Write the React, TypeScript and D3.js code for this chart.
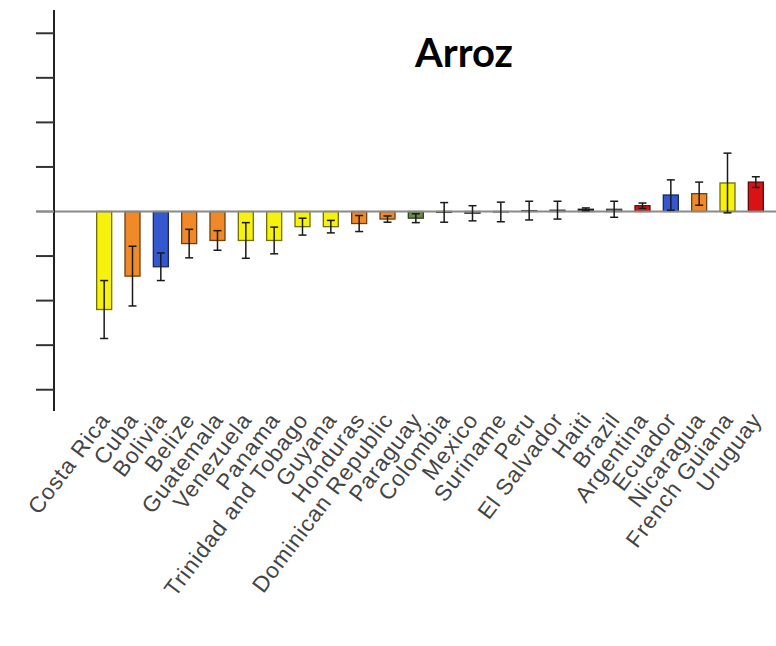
import { useEffect, useRef } from "react";
import * as d3 from "d3";

const countries = [
  "Costa Rica", "Cuba", "Bolivia", "Belize", "Guatemala", "Venezuela",
  "Panama", "Trinidad and Tobago", "Guyana", "Honduras", "Dominican Republic",
  "Paraguay", "Colombia", "Mexico", "Suriname", "Peru", "El Salvador", "Haiti",
  "Brazil", "Argentina", "Ecuador", "Nicaragua", "French Guiana", "Uruguay",
];
const means = [
  -2.2, -1.45, -1.24, -0.72, -0.65, -0.65, -0.65, -0.34, -0.34, -0.27, -0.17,
  -0.15, -0.02, -0.04, -0.01, 0.02, 0.03, 0.05, 0.05, 0.13, 0.37, 0.4, 0.64, 0.66,
];
const errors = [
  0.65, 0.67, 0.31, 0.32, 0.22, 0.4, 0.3, 0.19, 0.14, 0.18, 0.07, 0.1, 0.22,
  0.17, 0.22, 0.21, 0.2, 0.03, 0.18, 0.06, 0.34, 0.26, 0.67, 0.12,
];
const groups = [
  "yellow", "orange", "blue", "orange", "orange", "yellow", "yellow", "yellow",
  "yellow", "orange", "orange", "green", "green", "gray", "gray", "gray", "gray",
  "dark", "gray", "red", "blue", "orange", "yellow", "red",
];
const yTicks = [-4, -3, -2, -1, 0, 1, 2, 3, 4];

const palette: Record<string, string> = {
  yellow: "#f7f20c",
  orange: "#f08a28",
  blue: "#3558cf",
  red: "#d91313",
  green: "#6b8a4c",
  gray: "#8a8a8a",
  dark: "#333333",
};

export default function App() {
  const ref = useRef<SVGSVGElement>(null);

  useEffect(() => {
    const svg = d3.select(ref.current);
    svg.selectAll("*").remove();

    const x = d3.scalePoint<string>().domain(countries).range([90, 770]).padding(0.5);
    const y = d3.scaleLinear().domain([-4.5, 4.5]).range([412, 11]);
    const barW = 15;
    const axisX = 54;

    const data = countries.map((c, i) => ({
      name: c,
      v: means[i],
      e: errors[i],
      fill: palette[groups[i]],
    }));

    // title
    svg
      .append("text")
      .attr("x", 415)
      .attr("y", 67)
      .attr("font-family", "Lato, sans-serif")
      .attr("font-weight", 700)
      .attr("font-size", 40)
      .attr("fill", "#000")
      .text("Arroz");

    // bars
    svg
      .append("g")
      .selectAll("rect")
      .data(data)
      .enter()
      .append("rect")
      .attr("x", (d) => (x(d.name) as number) - barW / 2)
      .attr("y", (d) => y(Math.max(0, d.v)))
      .attr("width", barW)
      .attr("height", (d) => Math.abs(y(d.v) - y(0)))
      .attr("fill", (d) => d.fill)
      .attr("stroke", (d) => d3.color(d.fill)!.darker(2.2).formatHex())
      .attr("stroke-width", 1.3);

    // zero line
    svg
      .append("line")
      .attr("x1", 36)
      .attr("x2", 776)
      .attr("y1", y(0))
      .attr("y2", y(0))
      .attr("stroke", "#8a8a8a")
      .attr("stroke-width", 2.2);

    // error bars
    const eb = svg
      .append("g")
      .selectAll("g")
      .data(data)
      .enter()
      .append("g")
      .attr("stroke", "#1a1a1a")
      .attr("stroke-width", 1.5);
    eb.append("line")
      .attr("x1", (d) => x(d.name) as number)
      .attr("x2", (d) => x(d.name) as number)
      .attr("y1", (d) => y(d.v - d.e))
      .attr("y2", (d) => y(d.v + d.e));
    [-1, 1].forEach((s) => {
      eb.append("line")
        .attr("x1", (d) => (x(d.name) as number) - 4)
        .attr("x2", (d) => (x(d.name) as number) + 4)
        .attr("y1", (d) => y(d.v + s * d.e))
        .attr("y2", (d) => y(d.v + s * d.e));
    });

    // y axis
    svg
      .append("line")
      .attr("x1", axisX)
      .attr("x2", axisX)
      .attr("y1", 10)
      .attr("y2", 411)
      .attr("stroke", "#222")
      .attr("stroke-width", 2);
    svg
      .append("g")
      .selectAll("line")
      .data(yTicks)
      .enter()
      .append("line")
      .attr("x1", 36)
      .attr("x2", axisX)
      .attr("y1", (d) => y(d))
      .attr("y2", (d) => y(d))
      .attr("stroke", (d) => (d === 0 ? "#8a8a8a" : "#333"))
      .attr("stroke-width", 2);

    // category labels
    svg
      .append("g")
      .selectAll("text")
      .data(data)
      .enter()
      .append("text")
      .attr("transform", (d) => `translate(${(x(d.name) as number) + 7},420) rotate(-53)`)
      .attr("text-anchor", "end")
      .attr("font-family", "'Liberation Sans', Arial, sans-serif")
      .attr("font-size", 22.5)
      .attr("letter-spacing", 1)
      .attr("fill", "#444")
      .text((d) => d.name);
  }, []);

  return (
    <svg
      ref={ref}
      width={776}
      height={646}
      style={{ position: "absolute", left: 0, top: 0, background: "#fff" }}
    />
  );
}
